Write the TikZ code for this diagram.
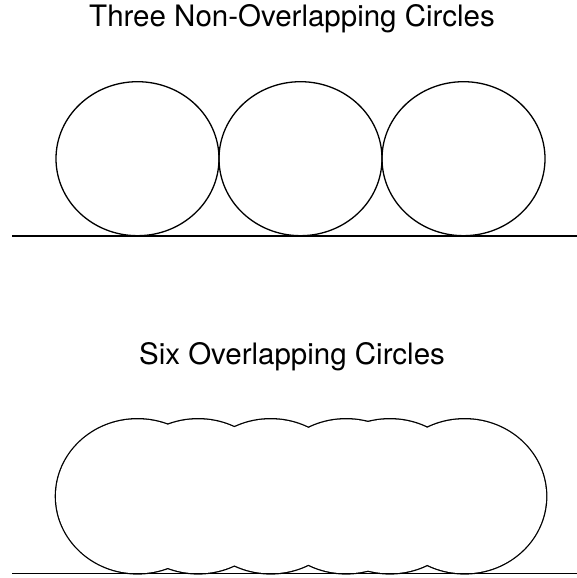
\documentclass[tikz,border=0pt]{standalone}
\usepackage{fontspec}
\setmainfont{TeX Gyre Heros}
\begin{document}
\begin{tikzpicture}[x=1pt, y=-1pt, every node/.style={inner sep=0pt}]
  \tikzset{ttl/.style={anchor=base, font=\fontsize{29.5}{34}\selectfont}}
  \tikzset{ring/.style={draw=black, line width=1.3pt}}
  \tikzset{blob/.style={draw=black, line width=2.6pt}}
  \tikzset{ground/.style={draw=black, line width=1.5pt}}
  \useasboundingbox (0,0) rectangle (577,578);
  % titles
  \node[ttl] (ttl0) at (292,26.7) {Three Non-Overlapping Circles};
  \node[ttl] (ttl1) at (292,364.3) {Six Overlapping Circles};
  % non-overlapping circles
  \foreach \cx in {137.5, 300.5, 463.5}
    \draw[ring] (\cx,158.7) ellipse [x radius=81.5, y radius=77];
  \coordinate (g0a) at (12,236);
  \coordinate (g0b) at (577,236);
  \draw[ground] (g0a) -- (g0b);
  % overlapping circles, outline of the union
  \foreach \cx in {137.5, 198.1, 270.7, 346.1, 389.9, 464.6}
    \draw[blob] (\cx,496.3) ellipse [x radius=81.5, y radius=77];
  \foreach \cx in {137.5, 198.1, 270.7, 346.1, 389.9, 464.6}
    \fill[white] (\cx,496.3) ellipse [x radius=81.5, y radius=77];
  \coordinate (g1a) at (12,573.3);
  \coordinate (g1b) at (577,573.3);
  \draw[ground] (g1a) -- (g1b);
\end{tikzpicture}
\end{document}
